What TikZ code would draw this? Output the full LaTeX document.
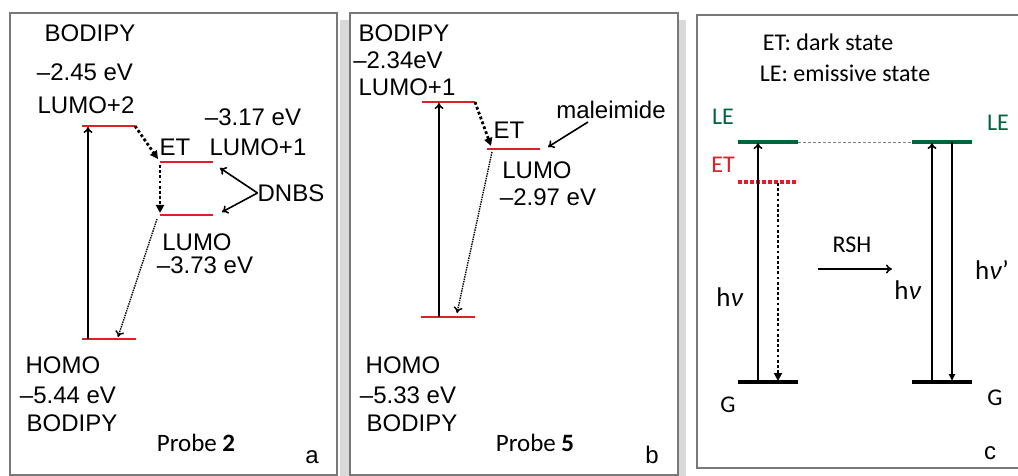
\documentclass[tikz,border=0pt]{standalone}
\usepackage{fontspec}
\setmainfont{Liberation Sans}
\newfontfamily\calfont{Carlito}
\usetikzlibrary{arrows.meta}
\definecolor{lvlred}{RGB}{225,30,40}
\definecolor{lvlgreen}{RGB}{0,100,60}
\definecolor{framegray}{RGB}{120,120,120}
\tikzset{
  frame/.style={draw=framegray, line width=1.2pt},
  redlvl/.style={draw=lvlred, line width=2.2pt},
  greenlvl/.style={draw=lvlgreen, line width=3.5pt},
  blacklvl/.style={draw=black, line width=3.5pt},
  uparrow/.style={line width=1.6pt, -{To[length=6pt,width=9pt]}},
  downarrow/.style={line width=1.6pt, -{Triangle[length=7pt,width=6pt]}},
  etarrow/.style={line width=2.8pt, dash pattern=on 2.8pt off 2.4pt, -{Triangle[length=8pt,width=8pt]}},
  relax/.style={line width=1.4pt, dash pattern=on 1.4pt off 1pt, -{To[length=6pt,width=9pt]}},
  txt/.style={inner sep=0pt, font=\fontsize{24}{26}\selectfont},
  ctxt/.style={inner sep=0pt, font=\calfont\fontsize{24}{26}\selectfont}
}
\begin{document}
\begin{tikzpicture}[x=1pt,y=-1pt]
	\useasboundingbox (0,0) rectangle (1018,476);
	\fill[gray!30] (340,20) rectangle (350,476); %shadow b
	\fill[gray!30] (678,20) rectangle (686,476);
	\draw[frame] (10,13) rectangle (337,475); %panel a
	\draw[frame] (350,13) rectangle (678,475); %panel b
	\draw[frame] (697,15) rectangle (1030,468); %panel c

	% panel a
	\coordinate (al2w) at (82,126); \coordinate (al2e) at (135,126); %LUMO+2
	\coordinate (al1w) at (160,162); \coordinate (al1e) at (213,162); %LUMO+1
	\coordinate (alw) at (160,215); \coordinate (ale) at (213,215); %LUMO
	\coordinate (ahw) at (82,339); \coordinate (ahe) at (136,339); %HOMO
	\draw[redlvl] (al2w) -- (al2e);
	\draw[redlvl] (al1w) -- (al1e);
	\draw[redlvl] (alw) -- (ale);
	\draw[redlvl] (ahw) -- (ahe);

	\node[txt] at (90,33) (abod) {BODIPY};
	\node[txt] at (85,72) (aen2) {–2.45 eV};
	\node[txt] at (86,105) (alumo2) {LUMO+2};
	\node[txt] at (253,117) (aen1) {–3.17 eV};
	\node[txt] at (175,147) (aet) {ET};
	\node[txt] at (258,147) (alumo1) {LUMO+1};
	\node[txt] at (291,193) (dnbs) {DNBS};
	\node[txt] at (197,242) (alumo) {LUMO};
	\node[txt] at (205,265) (aen) {–3.73 eV};
	\node[txt] at (63,365) (ahomo) {HOMO};
	\node[txt] at (68,395) (aenh) {–5.44 eV};
	\node[txt] at (72,423) (abodb) {BODIPY};
	\node[ctxt, font=\calfont\fontsize{25}{27}\selectfont] at (196,443) (probea) {Probe \textbf{2}};
	\node[txt] at (312,457) (taga) {a};

	\coordinate (aup0) at (88,339); \coordinate (aup1) at (88,127);
	\coordinate (aet1) at (158,159);
	\coordinate (aet2) at (160,165); \coordinate (aet3) at (160,213);
	\coordinate (arx0) at (157,219); \coordinate (arx1) at (118,337);
	\coordinate (ad1) at (220,168); \coordinate (ad2) at (222,212);
	\draw[uparrow] (aup0) -- (aup1);
	\draw[etarrow] (al2e) -- (aet1);
	\draw[etarrow] (aet2) -- (aet3);
	\draw[relax] (arx0) -- (arx1);
	\draw[uparrow] (dnbs.west) -- (ad1);
	\draw[uparrow] (dnbs.west) -- (ad2);

	% panel b
	\coordinate (bl1w) at (422,102); \coordinate (bl1e) at (475,102); %LUMO+1
	\coordinate (blw) at (487,149); \coordinate (ble) at (540,149); %LUMO
	\coordinate (bhw) at (421,317); \coordinate (bhe) at (475,317); %HOMO
	\draw[redlvl] (bl1w) -- (bl1e);
	\draw[redlvl] (blw) -- (ble);
	\draw[redlvl] (bhw) -- (bhe);

	\node[txt] at (404,33) (bbod) {BODIPY};
	\node[txt] at (398,60) (ben1) {–2.34eV};
	\node[txt] at (407,87) (blumo1) {LUMO+1};
	\node[txt] at (509,130) (bet) {ET};
	\node[txt] at (611,110) (mal) {maleimide};
	\node[txt] at (537,170) (blumo) {LUMO};
	\node[txt] at (548,197) (ben) {–2.97 eV};
	\node[txt] at (403,365) (bhomo) {HOMO};
	\node[txt] at (408,395) (benh) {–5.33 eV};
	\node[txt] at (412,423) (bbodb) {BODIPY};
	\node[ctxt, font=\calfont\fontsize{25}{27}\selectfont] at (535,443) (probeb) {Probe \textbf{5}};
	\node[txt] at (652,455) (tagb) {b};

	\coordinate (bup0) at (439,317); \coordinate (bup1) at (439,103);
	\coordinate (bet1) at (491,146);
	\coordinate (brx0) at (492,152); \coordinate (brx1) at (457,313);
	\coordinate (bm0) at (588,122); \coordinate (bm1) at (548,147);
	\draw[uparrow] (bup0) -- (bup1);
	\draw[etarrow] (bl1e) -- (bet1);
	\draw[relax] (brx0) -- (brx1);
	\draw[uparrow] (bm0) -- (bm1);

	% panel c
	\coordinate (cle1w) at (738,142); \coordinate (cle1e) at (798,142); %LE
	\coordinate (cle2w) at (912,142); \coordinate (cle2e) at (972,142);
	\coordinate (cetw) at (738,182); \coordinate (cete) at (798,182); %ET
	\coordinate (cg1w) at (738,382); \coordinate (cg1e) at (798,382); %G
	\coordinate (cg2w) at (912,382); \coordinate (cg2e) at (972,382);
	\draw[greenlvl] (cle1w) -- (cle1e);
	\draw[greenlvl] (cle2w) -- (cle2e);
	\draw[draw=gray, line width=0.9pt, dash pattern=on 3pt off 2pt] (cle1e) -- (cle2w);
	\draw[draw=lvlred, line width=3.5pt, dash pattern=on 3.5pt off 2.5pt] (cetw) -- (cete);
	\draw[blacklvl] (cg1w) -- (cg1e);
	\draw[blacklvl] (cg2w) -- (cg2e);

	\node[ctxt] at (828,42) (key1) {ET: dark state};
	\node[ctxt] at (845,73) (key2) {LE: emissive state};
	\node[ctxt, text=lvlgreen] at (723,117) (cle1) {LE};
	\node[ctxt, text=lvlgreen] at (998,123) (cle2) {LE};
	\node[ctxt, text=lvlred] at (723,165) (cet) {ET};
	\node[ctxt] at (852,245) (rsh) {RSH};
	\node[ctxt, font=\calfont\fontsize{27}{29}\selectfont] at (730,297) (hv1) {h\textit{ν}};
	\node[ctxt, font=\calfont\fontsize{27}{29}\selectfont] at (908,290) (hv2) {h\textit{ν}};
	\node[ctxt, font=\calfont\fontsize{27}{29}\selectfont] at (992,270) (hv3) {h\textit{ν}’};
	\node[ctxt] at (728,405) (cg1) {G};
	\node[ctxt] at (995,398) (cg2) {G};
	\node[txt] at (990,453) (tagc) {c};

	\coordinate (cup0) at (758,382); \coordinate (cup1) at (758,143);
	\coordinate (cdn0) at (778,183); \coordinate (cdn1) at (778,381);
	\coordinate (cup2) at (932,382); \coordinate (cup3) at (932,143);
	\coordinate (cdn2) at (952,142); \coordinate (cdn3) at (952,381);
	\coordinate (crs0) at (818,269); \coordinate (crs1) at (892,269);
	\draw[uparrow] (cup0) -- (cup1);
	\draw[etarrow] (cdn0) -- (cdn1);
	\draw[uparrow] (cup2) -- (cup3);
	\draw[downarrow] (cdn2) -- (cdn3);
	\draw[uparrow] (crs0) -- (crs1);
\end{tikzpicture}
\end{document}
